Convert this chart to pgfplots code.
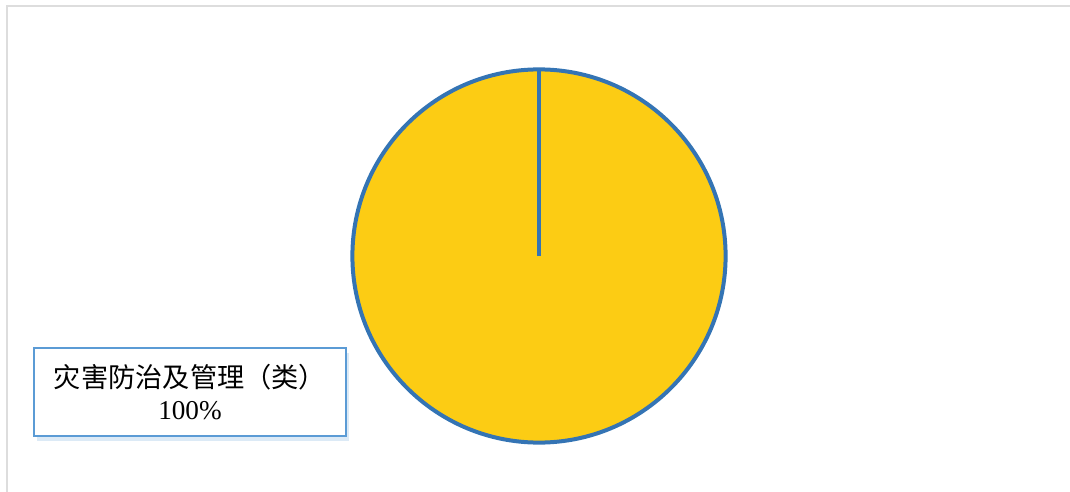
\documentclass[border=0pt]{standalone}
\usepackage{fontspec}
\setmainfont{Liberation Serif}
\newfontfamily\cjk{Noto Sans CJK SC}[FakeBold=0]
\usepackage{pgfplots}
\pgfplotsset{compat=1.18}
\usepackage{pgfplotstable}
\usetikzlibrary{shadows}
\definecolor{pieyellow}{HTML}{FCCC14}
\definecolor{pieblue}{HTML}{3474B4}
\definecolor{boxblue}{HTML}{5B9BD5}
\definecolor{framegray}{HTML}{DDDDDD}
% slice data: category, share (%)
\pgfplotstableread{
x y share
539 256 100
}\piedata
\begin{document}
\begin{tikzpicture}
\begin{axis}[
  scale only axis, width=535pt, height=246pt,
  xmin=0, xmax=1070, ymin=0, ymax=492, y dir=reverse,
  hide axis, clip=false, clip mode=individual,
]
% outer frame
\draw[framegray, line width=1pt] (axis cs:7,492) -- (axis cs:7,6) -- (axis cs:1070,6);
% the single slice (100%)
\addplot[only marks, mark=*, mark size=93.3pt,
  mark options={fill=pieyellow, draw=pieblue, line width=2pt}]
  table[x=x, y=y] {\piedata};
% slice boundary (start at 12 o'clock)
\addplot[pieblue, line width=2pt, no marks] coordinates {(539,256) (539,70)};
% data label
\node[draw=boxblue, line width=1pt, fill=white, minimum width=156pt, minimum height=44pt,
  align=center, inner sep=2pt,
  drop shadow={shadow xshift=1.5pt, shadow yshift=-2.5pt, fill=boxblue!70, opacity=0.3},
  font=\fontsize{13.6pt}{16pt}\selectfont]
  at (axis cs:190,392) {{\cjk 灾害防治及管理（类）}\\100\%};
\end{axis}
\pgfresetboundingbox
\path[use as bounding box] (0,0) rectangle (535pt,246pt);
\end{tikzpicture}
\end{document}
